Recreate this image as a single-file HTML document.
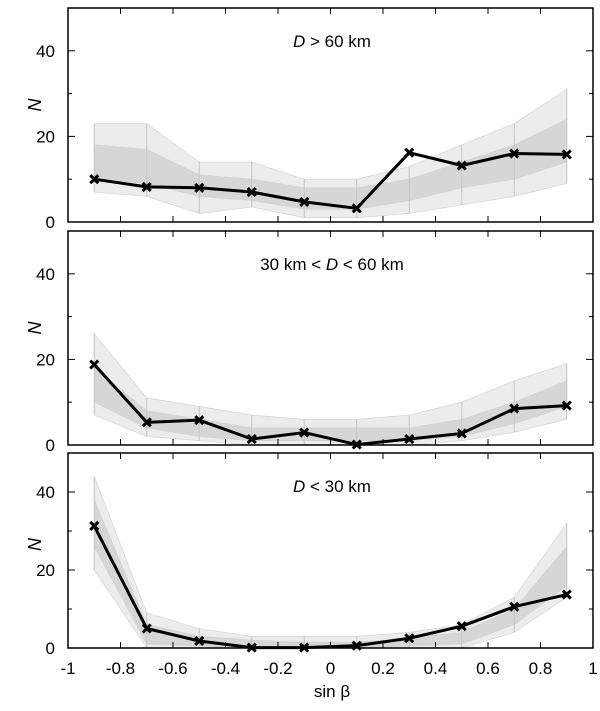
<!DOCTYPE html>
<html><head><meta charset="utf-8"><style>
body{margin:0;background:#fff}
svg{display:block;font-family:"Liberation Sans",sans-serif}
</style></head><body>
<svg id="chart" width="600" height="711" viewBox="0 0 600 711"></svg>
<script>
const xCats=[-0.9,-0.7,-0.5,-0.3,-0.1,0.1,0.3,0.5,0.7,0.9];
const xTicks=[-1,-0.8,-0.6,-0.4,-0.2,0,0.2,0.4,0.6,0.8,1];
const xTickLabels=["-1","-0.8","-0.6","-0.4","-0.2","0","0.2","0.4","0.6","0.8","1"];
const yTicks=[0,20,40];
const yMinor=[10,30];
const titles=["D > 60 km","30 km < D < 60 km","D < 30 km"];
const mainTop=[10,8.2,8,7,4.7,3.2,16.2,13.2,16,15.8];
const mainMid=[18.8,5.3,5.8,1.4,2.9,0.1,1.4,2.7,8.5,9.2];
const mainBot=[31.3,5,1.8,0.1,0.1,0.6,2.5,5.6,10.6,13.7];
const loTop=[7,6,2,3.5,1,1,2,4,6,9], hiTop=[23,23,14,14,10,10,13,18,23,31];
const inLoTop=[10,9,6,5,3,3,5,8,10,14], inHiTop=[18,17,11,10,8,8,10,14,18,24];
const loMid=[7,2,1,0,0,0,0,1,3,6], hiMid=[26,11,9,7,6,6,7,10,15,19];
const inLoMid=[10,4,2,1,1,1,1,2,5,9], inHiMid=[18,8,6,4,4,4,4,6,10,15];
const loBot=[20,0,0,0,0,0,0,0,4,13], hiBot=[44,9,5,3,3,3,4,6,13,32];
const inLoBot=[26,1,0.5,0,0,0,0.5,1,6,16], inHiBot=[38,6,3,2,1.5,1.5,2.5,4,10,26];

const panels=[
 {name:'top',y0:8,y1:222,main:mainTop,lo:loTop,hi:hiTop,ilo:inLoTop,ihi:inHiTop,ty:47},
 {name:'middle',y0:231,y1:445,main:mainMid,lo:loMid,hi:hiMid,ilo:inLoMid,ihi:inHiMid,ty:270},
 {name:'bottom',y0:453,y1:648,main:mainBot,lo:loBot,hi:hiBot,ilo:inLoBot,ihi:inHiBot,ty:492}
];
const X0=68,X1=593;
const sx=v=>X0+(v+1)/2*(X1-X0);
const svg=document.getElementById('chart');
const NS='http://www.w3.org/2000/svg';
function mk(tag,attrs,parent){const e=document.createElementNS(NS,tag);for(const k in attrs)e.setAttribute(k,attrs[k]);(parent||svg).appendChild(e);return e;}

panels.forEach((p,pi)=>{
 const sy=v=>p.y1-v/50*(p.y1-p.y0);
 const g=mk('g',{});
 
 
 const band=(lo,hi,fill,nm)=>{
  const pts=xCats.map((x,i)=>sx(x)+','+sy(hi[i])).concat(xCats.map((x,i)=>sx(x)+','+sy(lo[i])).reverse()).join(' ');
  const e=mk('polygon',{points:pts,fill:fill,stroke:'#d0d0d0','stroke-width':0.6},g);
  
  
 };
 band(p.lo,p.hi,'#ececec','simulation-envelope');
 band(p.ilo,p.ihi,'#d6d6d6','simulation-core');
 xCats.forEach((x,i)=>{mk('line',{x1:sx(x),x2:sx(x),y1:sy(p.hi[i]),y2:sy(p.lo[i]),stroke:'#c4c4c4','stroke-width':1},g);});
 const r=mk('rect',{x:X0,y:p.y0,width:X1-X0,height:p.y1-p.y0,fill:'none',stroke:'#000','stroke-width':1.5},g);
 
 
 xTicks.forEach(t=>{
  if(t===-1||t===1)return;
  mk('line',{x1:sx(t),x2:sx(t),y1:p.y1,y2:p.y1-6,stroke:'#000','stroke-width':1},g);
  mk('line',{x1:sx(t),x2:sx(t),y1:p.y0,y2:p.y0+6,stroke:'#000','stroke-width':1},g);
 });
 yTicks.concat(yMinor).forEach(t=>{
  const len=yMinor.includes(t)?4:7;
  if(t>0){mk('line',{x1:X0,x2:X0+len,y1:sy(t),y2:sy(t),stroke:'#000','stroke-width':1},g);
  mk('line',{x1:X1,x2:X1-len,y1:sy(t),y2:sy(t),stroke:'#000','stroke-width':1},g);}
 });
 yTicks.forEach(t=>{
  const tx=mk('text',{x:55,y:sy(t)+6,'text-anchor':'end','font-size':17},g);
  tx.textContent=t;
  
  
 });
 const yl=mk('text',{x:0,y:0,'font-size':18,'font-style':'italic','text-anchor':'middle',transform:`translate(41,${(p.y0+p.y1)/2-(pi==2?6:10)}) rotate(-90)`},g);
 yl.textContent='N';
 
 
 const tt=mk('text',{x:332,y:p.ty,'text-anchor':'middle','font-size':17},g);
 
 
 titles[pi].split(/(D)/).forEach(s=>{if(!s)return;const ts=mk('tspan',{},tt);if(s==='D')ts.setAttribute('font-style','italic');ts.textContent=s;});
 const pl=mk('polyline',{points:xCats.map((x,i)=>sx(x)+','+sy(p.main[i])).join(' '),fill:'none',stroke:'#000','stroke-width':3,'stroke-linejoin':'round'},g);
 
 
 xCats.forEach((x,i)=>{
  const cx=sx(x),cy=sy(p.main[i]);
  const m=mk('path',{d:`M${cx-4},${cy-4}L${cx+4},${cy+4}M${cx-4},${cy+4}L${cx+4},${cy-4}`,stroke:'#000','stroke-width':3},g);
  
  
 });
});
xTicks.forEach((t,i)=>{
 const tx=mk('text',{x:sx(t),y:674,'text-anchor':'middle','font-size':17});
 tx.textContent=xTickLabels[i];
 
 
});
const xl=mk('text',{x:332,y:697,'text-anchor':'middle','font-size':17});
xl.textContent='sin β';


</script>
</body></html>
